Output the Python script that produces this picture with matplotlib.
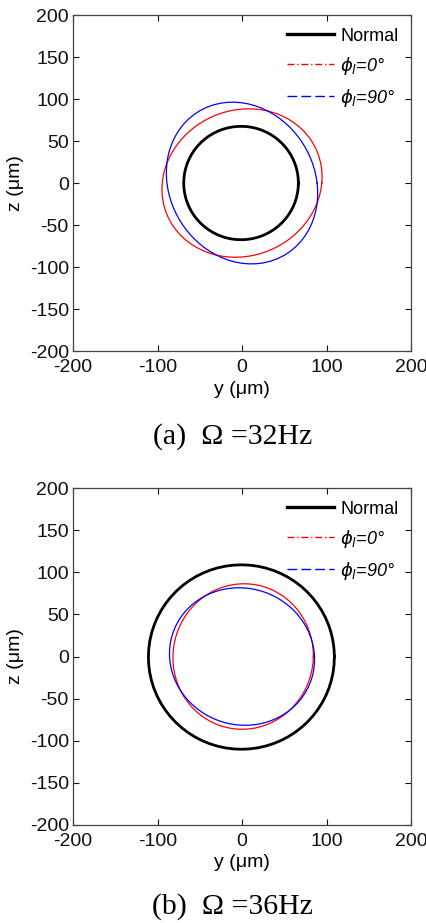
import numpy as np
import matplotlib
matplotlib.use("Agg")
import matplotlib.pyplot as plt
from matplotlib.lines import Line2D

plt.rcParams['font.family'] = ['Liberation Sans', 'DejaVu Sans']
plt.rcParams['mathtext.fontset'] = 'dejavusans'
plt.rcParams['mathtext.default'] = 'it'
plt.rcParams['axes.unicode_minus'] = False

# Orbit radius (um) sampled every 5 degrees around the bearing centre
angles_deg = [0, 5, 10, 15, 20, 25, 30, 35, 40, 45, 50, 55,
              60, 65, 70, 75, 80, 85, 90, 95, 100, 105, 110, 115,
              120, 125, 130, 135, 140, 145, 150, 155, 160, 165, 170, 175,
              180, 185, 190, 195, 200, 205, 210, 215, 220, 225, 230, 235,
              240, 245, 250, 255, 260, 265, 270, 275, 280, 285, 290, 295,
              300, 305, 310, 315, 320, 325, 330, 335, 340, 345, 350, 355]

# (a) Omega = 32 Hz
r32_normal = [66.70, 66.70, 66.71, 66.72, 66.73, 66.75, 66.77, 66.79, 66.82, 66.86, 66.91, 66.96,
              67.01, 67.08, 67.15, 67.23, 67.31, 67.40, 67.50, 67.60, 67.71, 67.82, 67.93, 68.05,
              68.16, 68.28, 68.38, 68.49, 68.59, 68.68, 68.76, 68.83, 68.89, 68.94, 68.97, 68.99,
              69.00, 68.99, 68.97, 68.94, 68.89, 68.83, 68.76, 68.68, 68.59, 68.49, 68.38, 68.28,
              68.16, 68.05, 67.93, 67.82, 67.71, 67.60, 67.50, 67.40, 67.31, 67.23, 67.15, 67.08,
              67.01, 66.96, 66.91, 66.86, 66.82, 66.79, 66.77, 66.75, 66.73, 66.72, 66.71, 66.70]
r32_phi0 = [94.46, 95.15, 95.72, 96.15, 96.41, 96.50, 96.41, 96.15, 95.72, 95.15, 94.46, 93.68,
            92.84, 91.97, 91.09, 90.24, 89.44, 88.71, 88.06, 87.51, 87.08, 86.76, 86.56, 86.50,
            86.56, 86.76, 87.08, 87.51, 88.06, 88.71, 89.44, 90.24, 91.09, 91.97, 92.84, 93.68,
            94.46, 95.15, 95.72, 96.15, 96.41, 96.50, 96.41, 96.15, 95.72, 95.15, 94.46, 93.68,
            92.84, 91.97, 91.09, 90.24, 89.44, 88.71, 88.06, 87.51, 87.08, 86.76, 86.56, 86.50,
            86.56, 86.76, 87.08, 87.51, 88.06, 88.71, 89.44, 90.24, 91.09, 91.97, 92.84, 93.68]
r32_phi90 = [88.86, 88.01, 87.30, 86.74, 86.33, 86.08, 86.00, 86.08, 86.33, 86.74, 87.30, 88.01,
             88.86, 89.82, 90.88, 92.02, 93.20, 94.38, 95.54, 96.62, 97.59, 98.39, 98.99, 99.37,
             99.50, 99.37, 98.99, 98.39, 97.59, 96.62, 95.54, 94.38, 93.20, 92.02, 90.88, 89.82,
             88.86, 88.01, 87.30, 86.74, 86.33, 86.08, 86.00, 86.08, 86.33, 86.74, 87.30, 88.01,
             88.86, 89.82, 90.88, 92.02, 93.20, 94.38, 95.54, 96.62, 97.59, 98.39, 98.99, 99.37,
             99.50, 99.37, 98.99, 98.39, 97.59, 96.62, 95.54, 94.38, 93.20, 92.02, 90.88, 89.82]

# (b) Omega = 36 Hz
r36_normal = [109.30, 109.25, 109.19, 109.13, 109.08, 109.02, 108.96, 108.91, 108.86, 108.82, 108.79, 108.76,
              108.74, 108.74, 108.74, 108.76, 108.80, 108.84, 108.90, 108.97, 109.06, 109.15, 109.26, 109.37,
              109.49, 109.62, 109.75, 109.88, 110.01, 110.14, 110.26, 110.38, 110.49, 110.58, 110.67, 110.74,
              110.80, 110.85, 110.88, 110.89, 110.90, 110.89, 110.86, 110.83, 110.78, 110.73, 110.67, 110.60,
              110.53, 110.46, 110.39, 110.31, 110.24, 110.17, 110.10, 110.04, 109.98, 109.92, 109.87, 109.83,
              109.78, 109.74, 109.71, 109.67, 109.63, 109.60, 109.56, 109.53, 109.49, 109.44, 109.40, 109.35]
r36_phi0 = [84.40, 84.52, 84.67, 84.86, 85.06, 85.29, 85.53, 85.76, 86.00, 86.22, 86.42, 86.59,
            86.72, 86.80, 86.83, 86.81, 86.73, 86.58, 86.39, 86.14, 85.84, 85.50, 85.14, 84.75,
            84.35, 83.95, 83.56, 83.19, 82.84, 82.54, 82.26, 82.04, 81.88, 81.77, 81.72, 81.73,
            81.80, 81.92, 82.11, 82.34, 82.62, 82.93, 83.27, 83.64, 84.00, 84.38, 84.74, 85.09,
            85.42, 85.70, 85.95, 86.13, 86.27, 86.36, 86.39, 86.36, 86.30, 86.18, 86.02, 85.85,
            85.65, 85.45, 85.24, 85.03, 84.84, 84.66, 84.52, 84.40, 84.32, 84.29, 84.28, 84.33]
r36_phi90 = [85.80, 85.44, 85.02, 84.57, 84.10, 83.62, 83.14, 82.69, 82.28, 81.91, 81.59, 81.34,
             81.15, 81.04, 81.00, 81.04, 81.15, 81.34, 81.59, 81.91, 82.28, 82.69, 83.14, 83.62,
             84.10, 84.57, 85.02, 85.44, 85.80, 86.10, 86.32, 86.45, 86.50, 86.45, 86.32, 86.10,
             85.80, 85.44, 85.02, 84.57, 84.10, 83.62, 83.14, 82.69, 82.28, 81.91, 81.59, 81.34,
             81.15, 81.04, 81.00, 81.04, 81.15, 81.34, 81.59, 81.91, 82.28, 82.69, 83.14, 83.62,
             84.10, 84.57, 85.02, 85.44, 85.80, 86.10, 86.32, 86.45, 86.50, 86.45, 86.32, 86.10]

series_labels = ['Normal', r'$\phi_l$=0°', r'$\phi_l$=90°']
captions = ['(a)  \u03a9 =32Hz', '(b)  \u03a9 =36Hz']
y_ticks = [-200, -150, -100, -50, 0, 50, 100, 150, 200]
x_ticks = [-200, -100, 0, 100, 200]

panels = [(r32_normal, r32_phi0, r32_phi90), (r36_normal, r36_phi0, r36_phi90)]
colors = ['black', '#ff0000', '#0000ff']
widths = [2.0, 0.9, 0.9]
legend_styles = ['-', (0, (5, 2, 1, 2)), (0, (7, 3))]


def orbit(radii):
    th = np.deg2rad(np.append(angles_deg, angles_deg[0]))
    r = np.append(radii, radii[0])
    return r * np.cos(th), r * np.sin(th)


fig = plt.figure(figsize=(4.27, 9.23), dpi=100)
axes_rects = [[0.171, 0.6197, 0.7916, 0.364], [0.171, 0.1062, 0.7916, 0.365]]
caption_y = [1 - 436.5 / 923, 1 - 906.5 / 923]

for k, (rect, curves) in enumerate(zip(axes_rects, panels)):
    ax = fig.add_axes(rect)
    for radii, c, lw in zip(curves, colors, widths):
        y, z = orbit(radii)
        ax.plot(y, z, color=c, lw=lw, solid_joinstyle='round')
    ax.set_xlim(-200, 200)
    ax.set_ylim(-200, 200)
    ax.set_xticks(x_ticks)
    ax.set_yticks(y_ticks)
    ax.tick_params(direction='in', length=4, width=0.8, top=True, right=True,
                   labelsize=14, colors='#111111', pad=3)
    ax.tick_params(axis='x', pad=6)
    for sp in ax.spines.values():
        sp.set_color('#444444')
        sp.set_linewidth(0.9)
    ax.set_xlabel('y (\u03bcm)', fontsize=14, labelpad=3)
    ax.set_ylabel('z (\u03bcm)', fontsize=14, labelpad=4)

    handles = [Line2D([], [], color=c, lw=lw, linestyle=ls)
               for c, lw, ls in zip(colors, [2.4, 1.0, 1.0], legend_styles)]
    leg = ax.legend(handles, series_labels, loc='upper right', frameon=False,
                    fontsize=13, handlelength=2.6, handletextpad=0.35,
                    labelspacing=0.55, borderaxespad=0.3)
    for t in leg.get_texts()[1:]:
        t.set_fontstyle('italic')

    fig.text(0.5445, caption_y[k], captions[k], ha='center', va='center',
             fontsize=21.5, family='Liberation Serif')

fig.savefig('out.png', dpi=100)
